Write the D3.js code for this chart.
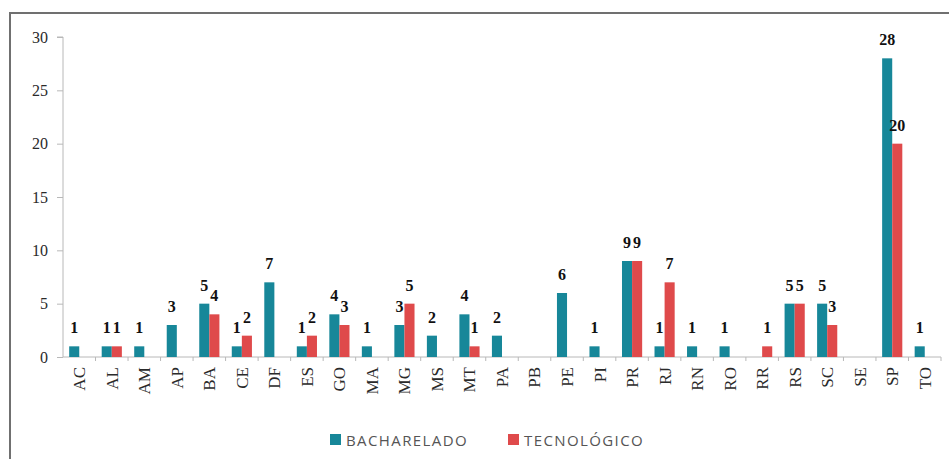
<!DOCTYPE html>
<html>
<head>
<meta charset="utf-8">
<script src="https://cdn.jsdelivr.net/npm/d3@7"></script>
<style>
  body { margin: 0; background: #fff; overflow: hidden; }
  svg { display: block; }
  .axis path, .axis line { stroke: #b8b8b8; }
  .axis text { fill: #2a2a2a; font-family: "Liberation Serif", "DejaVu Serif", serif; font-size: 16px; }
  .xaxis text { font-size: 17px; }
  .value { font-family: "Liberation Serif", serif; font-weight: bold; font-size: 16px; fill: #111; }
  .legend text { font-family: "Open Sans", "Liberation Sans", sans-serif; font-size: 15px; fill: #555; letter-spacing: 1.4px; }
</style>
</head>
<body>
<svg id="chart"></svg>
<script>
var states = ['AC', 'AL', 'AM', 'AP', 'BA', 'CE', 'DF', 'ES', 'GO', 'MA', 'MG', 'MS', 'MT', 'PA',
    'PB', 'PE', 'PI', 'PR', 'RJ', 'RN', 'RO', 'RR', 'RS', 'SC', 'SE', 'SP', 'TO'];
var bacharelado = [1, 1, 1, 3, 5, 1, 7, 1, 4, 1, 3, 2, 4, 2, 0, 6, 1, 9, 1, 1, 1, 0, 5, 5, 0, 28, 1];
var tecnologico = [0, 1, 0, 0, 4, 2, 0, 2, 3, 0, 5, 0, 1, 0, 0, 0, 0, 9, 7, 0, 0, 1, 5, 3, 0, 20, 0];
var seriesNames = ['BACHARELADO', 'TECNOLÓGICO'];
var yTicks = [0, 5, 10, 15, 20, 25, 30];

var width = 949,
    height = 459,
    margin = { top: 37, right: 8, bottom: 102, left: 63 },
    colors = ['#178799', '#df4a4b'];

var svg = d3.select('#chart')
    .attr('width', width)
    .attr('height', height);

// frame (only top and left edges show in the picture)
svg.append('rect')
    .attr('x', 10)
    .attr('y', 13)
    .attr('width', width + 20)
    .attr('height', height + 20)
    .attr('fill', 'none')
    .attr('stroke', '#707070')
    .attr('stroke-width', 2);

var xScale = d3.scaleBand()
    .domain(states)
    .range([margin.left, width - margin.right])
    .paddingInner(0.38)
    .paddingOuter(0.19);

var xInner = d3.scaleBand()
    .domain(seriesNames)
    .range([0, xScale.bandwidth()]);

var yScale = d3.scaleLinear()
    .domain([0, 30])
    .range([height - margin.bottom, margin.top]);

var rows = states.map(function (s, i) {
    return { state: s, values: [bacharelado[i], tecnologico[i]] };
});

// y axis
var yAxis = d3.axisLeft(yScale).tickValues(yTicks).tickSize(6).tickPadding(9);
var yG = svg.append('g')
    .attr('class', 'axis')
    .attr('transform', 'translate(' + margin.left + ',0)')
    .call(yAxis);
yG.select('.domain').attr('d', 'M-6,' + yScale(30) + 'H0V' + yScale(0));

// x axis, ticks between categories
var xG = svg.append('g')
    .attr('class', 'axis xaxis')
    .attr('transform', 'translate(0,' + yScale(0) + ')')
    .call(d3.axisBottom(xScale).tickSize(0).tickPadding(0));
xG.select('.domain').attr('d', 'M' + margin.left + ',0H' + (width - margin.right));
xG.selectAll('.tick text')
    .attr('text-anchor', 'end')
    .attr('dy', '0.35em')
    .attr('transform', 'translate(0,10) rotate(-90)');

var step = xScale.step();
xG.selectAll('.sep')
    .data(states)
    .enter()
    .append('line')
    .attr('class', 'sep')
    .attr('x1', function (d) { return xScale(d) + xScale.bandwidth() + (step - xScale.bandwidth()) / 2; })
    .attr('x2', function (d) { return xScale(d) + xScale.bandwidth() + (step - xScale.bandwidth()) / 2; })
    .attr('y1', 0)
    .attr('y2', 4);

// bars
var groups = svg.append('g').selectAll('g')
    .data(rows)
    .enter()
    .append('g')
    .attr('transform', function (d) { return 'translate(' + xScale(d.state) + ',0)'; });

groups.selectAll('rect')
    .data(function (d) { return d.values.map(function (v, j) { return { v: v, j: j }; }); })
    .enter()
    .append('rect')
    .attr('x', function (d) { return xInner(seriesNames[d.j]); })
    .attr('width', xInner.bandwidth())
    .attr('y', function (d) { return yScale(d.v); })
    .attr('height', function (d) { return yScale(0) - yScale(d.v); })
    .attr('fill', function (d) { return colors[d.j]; });

groups.selectAll('text')
    .data(function (d) { return d.values.map(function (v, j) { return { v: v, j: j }; }).filter(function (d) { return d.v > 0; }); })
    .enter()
    .append('text')
    .attr('class', 'value')
    .attr('text-anchor', 'middle')
    .attr('x', function (d) { return xInner(seriesNames[d.j]) + xInner.bandwidth() / 2; })
    .attr('y', function (d) { return yScale(d.v) - 13; })
    .text(function (d) { return d.v; });

// legend
var legend = svg.append('g').attr('class', 'legend');
var legendX = [330, 508];
seriesNames.forEach(function (name, i) {
    legend.append('rect')
        .attr('x', legendX[i])
        .attr('y', 434)
        .attr('width', 11)
        .attr('height', 11)
        .attr('fill', colors[i]);
    legend.append('text')
        .attr('x', legendX[i] + 16)
        .attr('y', 446)
        .text(name);
});
</script>
</body>
</html>
